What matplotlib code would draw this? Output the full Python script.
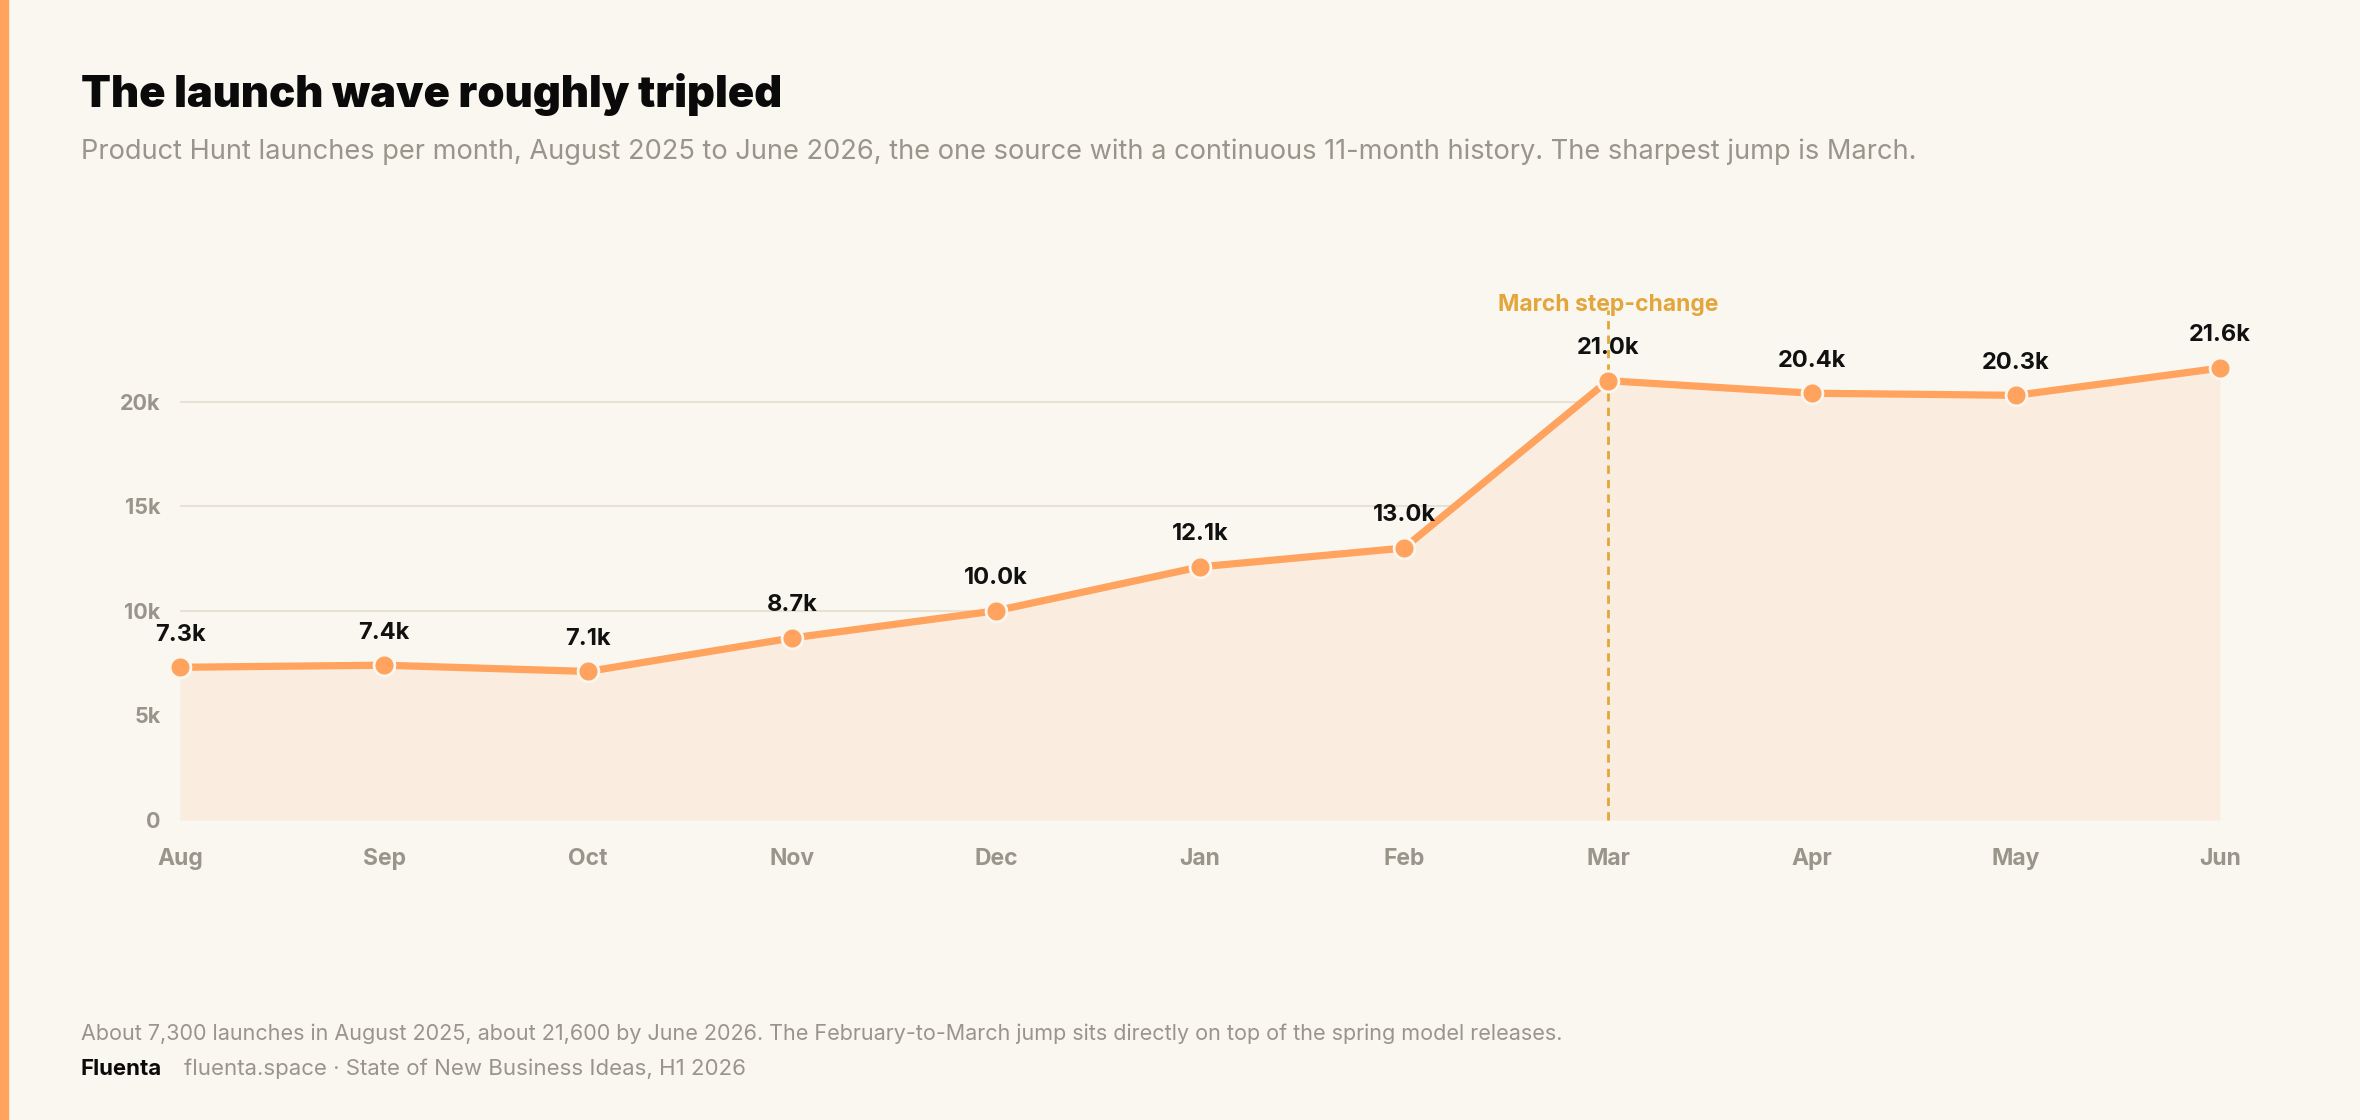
import matplotlib.pyplot as plt
from matplotlib.patches import Rectangle

# data: Product Hunt launches per month
months = ['Aug', 'Sep', 'Oct', 'Nov', 'Dec', 'Jan', 'Feb', 'Mar', 'Apr', 'May', 'Jun']
launches = [7300, 7400, 7100, 8700, 10000, 12100, 13000, 21000, 20400, 20300, 21600]
labels = ['7.3k', '7.4k', '7.1k', '8.7k', '10.0k', '12.1k', '13.0k', '21.0k', '20.4k', '20.3k', '21.6k']
yticks = [0, 5000, 10000, 15000, 20000]
ytick_labels = ['0', '5k', '10k', '15k', '20k']
step_month = 'Mar'

# colours
bg = '#FAF7F0'
orange = '#FFA35E'
fill = '#FAEDDF'
grid = '#E8E1D5'
gray = '#9A958B'
gold = '#E2A63C'

plt.rcParams['font.family'] = ['Inter', 'DejaVu Sans']

fig = plt.figure(figsize=(23.6, 11.2), dpi=100, facecolor=bg)
ax = fig.add_axes([180 / 2360, 1 - 820 / 1120, 2040 / 2360, 24.5 * 20.92 / 1120])
ax.set_facecolor(bg)

x = list(range(len(months)))
ax.fill_between(x, 0, launches, color=fill, zorder=1, linewidth=0)
ax.plot(x, launches, color=orange, lw=5.2, zorder=3, solid_capstyle='round',
        marker='o', markersize=15, markerfacecolor=orange,
        markeredgecolor=bg, markeredgewidth=2, clip_on=False)

for xi, v, lab in zip(x, launches, labels):
    ax.annotate(lab, (xi, v), xytext=(0, 23.5), textcoords='offset points',
                ha='center', va='center', fontsize=17, fontweight='bold',
                color='#111111', zorder=5)

# march step-change marker
mi = months.index(step_month)
ax.plot([mi, mi], [0, 24400], color=gold, lw=2, ls=(0, (3, 2.2)), zorder=2, clip_on=False)
ax.text(mi, 24600, 'March step-change', ha='center', va='center', fontsize=16.5,
        fontweight='bold', color=gold)

ax.set_xlim(0, len(months) - 1)
ax.set_ylim(0, 24500)
ax.set_yticks(yticks)
ax.set_yticklabels(ytick_labels)
ax.set_xticks(x)
ax.set_xticklabels(months)
ax.tick_params(length=0, colors=gray, labelsize=15.5, pad=14)
ax.tick_params(axis='x', labelsize=16.5, pad=20)
for t in ax.get_xticklabels() + ax.get_yticklabels():
    t.set_fontweight('bold')
ax.grid(axis='y', color=grid, lw=1.5, zorder=0)
ax.set_axisbelow(True)
for s in ax.spines.values():
    s.set_visible(False)

# left accent bar
fig.patches.append(Rectangle((0, 0), 8 / 2360, 1, transform=fig.transFigure,
                             color=orange, zorder=0))

fig.text(81 / 2360, 1 - 107 / 1120, 'The launch wave roughly tripled', fontsize=31.3,
         fontweight='black', color='#0A0A0A', va='baseline')
fig.text(81 / 2360, 1 - 159 / 1120,
         'Product Hunt launches per month, August 2025 to June 2026, the one source with a '
         'continuous 11-month history. The sharpest jump is March.',
         fontsize=19.6, color=gray, va='baseline')
fig.text(81 / 2360, 1 - 1040 / 1120,
         'About 7,300 launches in August 2025, about 21,600 by June 2026. The February-to-March '
         'jump sits directly on top of the spring model releases.',
         fontsize=15.5, color=gray, va='baseline')
fig.text(81 / 2360, 1 - 1075 / 1120, 'Fluenta', fontsize=16, fontweight='bold',
         color='#0A0A0A', va='baseline')
fig.text(184 / 2360, 1 - 1075 / 1120, 'fluenta.space \u00b7 State of New Business Ideas, H1 2026',
         fontsize=16, color=gray, va='baseline')

fig.savefig('out.png', dpi=100, facecolor=bg)
